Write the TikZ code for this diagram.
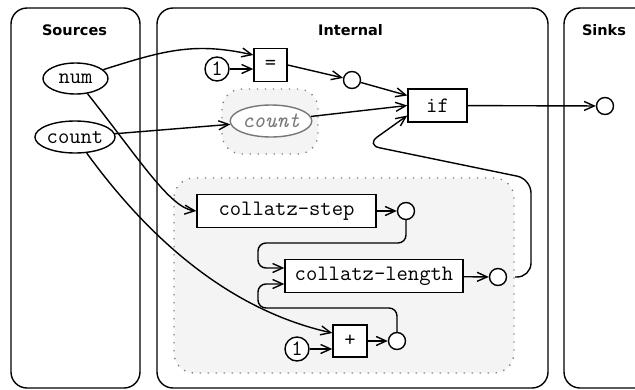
\documentclass[tikz,border=0pt]{standalone}
\usepackage{fontspec}
\setsansfont{DejaVu Sans}
\usetikzlibrary{arrows.meta}
\usetikzlibrary{shapes.geometric}

\definecolor{clusterbg}{HTML}{F4F4F4}
\definecolor{ghostgray}{HTML}{777777}

\tikzset{
    panel/.style={draw, line width=1.4pt, rounded corners=16pt},
    cluster/.style={draw=gray, line width=1.4pt, dash pattern=on 1.3pt off 6.7pt, fill=clusterbg, rounded corners=20pt},
    title/.style={font=\sffamily\bfseries\fontsize{14.5}{16}\selectfont, anchor=base},
    src/.style={draw, ellipse, line width=1.4pt, fill=white, inner sep=0pt, font=\ttfamily\fontsize{22}{23}\selectfont},
    ghost/.style={src, draw=ghostgray, text=ghostgray, font=\ttfamily\itshape\fontsize{22}{23}\selectfont},
    op/.style={draw, line width=1.4pt, fill=white, inner sep=0pt, minimum height=33pt, minimum width=33pt, font=\ttfamily\fontsize{22}{23}\selectfont},
    port/.style={draw, circle, line width=1.4pt, fill=white, inner sep=0pt, minimum size=17pt},
    const/.style={draw, circle, line width=1.4pt, fill=white, inner sep=0pt, minimum size=24pt, font=\ttfamily\fontsize{22}{23}\selectfont},
    edge/.style={draw, line width=1.4pt, -{Straight Barb[length=10pt,width=9pt,line width=1.4pt]}}
}

\begin{document}
\begin{tikzpicture}[x=1pt,y=-1pt]
    \useasboundingbox (0,0) rectangle (635,389);
    \clip (0,0) rectangle (635,389);

    \draw[panel] (11,8) rectangle (140,388);
    \draw[panel] (157,8) rectangle (548,388);
    \draw[panel] (564,8) rectangle (670,388);
    \node[title] (srcT) at (74.5,35) {Sources};
    \node[title] (intT) at (350.5,35) {Internal};
    \node[title] (snkT) at (604,35) {Sinks};

    \draw[cluster] (222,89) rectangle (318,154);
    \draw[cluster] (174,178) rectangle (514,373);

    \node[src, minimum width=65pt, minimum height=31pt] (num) at (75.5,78.5) {num};
    \node[src, minimum width=74pt, minimum height=32pt] (count) at (75,137) {count};

    \node[const] (one) at (217,69) {1};
    \node[op] (eq) at (270.5,65) {=};
    \node[port] (eqout) at (352,80) {};
    \node[ghost, minimum width=72pt, minimum height=32pt] (cnt) at (271,121) {count};
    \node[op, minimum width=59pt] (if) at (437.5,105.5) {if};
    \node[port] (out) at (605,106) {};

    \node[op, minimum width=179pt] (step) at (286.5,211) {collatz-step};
    \node[port] (stepout) at (406,211) {};
    \node[op, minimum width=178pt] (len) at (374,276) {collatz-length};
    \node[port] (lenout) at (498,277) {};
    \node[const] (oneb) at (297,349) {1};
    \node[op, minimum width=34pt, minimum height=32pt] (plus) at (350,341) {+};
    \node[port] (plusout) at (397,341) {};

    \draw[edge] (num) .. controls (165,50) and (195,42) .. ([yshift=10pt]eq.west);
    \draw[edge] (one) -- (one -| eq.west);
    \draw[edge] (eq.east) -- (eqout);
    \draw[edge] (eqout) -- ([yshift=10pt]if.west);
    \draw[edge] (count) -- (cnt);
    \draw[edge] (cnt) -- (if.west);
    \draw[edge] (if) -- (out);

    \draw[edge] (num) .. controls (140,160) and (170,208) .. (step.west);
    \draw[edge] (count) .. controls (150,240) and (230,310) .. ([yshift=8pt]plus.west);
    \draw[edge] (oneb) -- (oneb -| plus.west);
    \draw[edge] (plus) -- (plusout);
    \draw[edge] (step) -- (stepout);
    \draw[edge] (len) -- (lenout);
    \draw[edge, rounded corners=8pt] (stepout) |- (258,243) |- ([yshift=8pt]len.west);
    \draw[edge, rounded corners=8pt] (plusout) |- (258,308) |- ([yshift=-8pt]len.west);
    \draw[edge, rounded corners=14pt] ([xshift=8pt]lenout.east) -| (531,179) -- (366,145) -- ([yshift=-10pt]if.west);
\end{tikzpicture}
\end{document}
